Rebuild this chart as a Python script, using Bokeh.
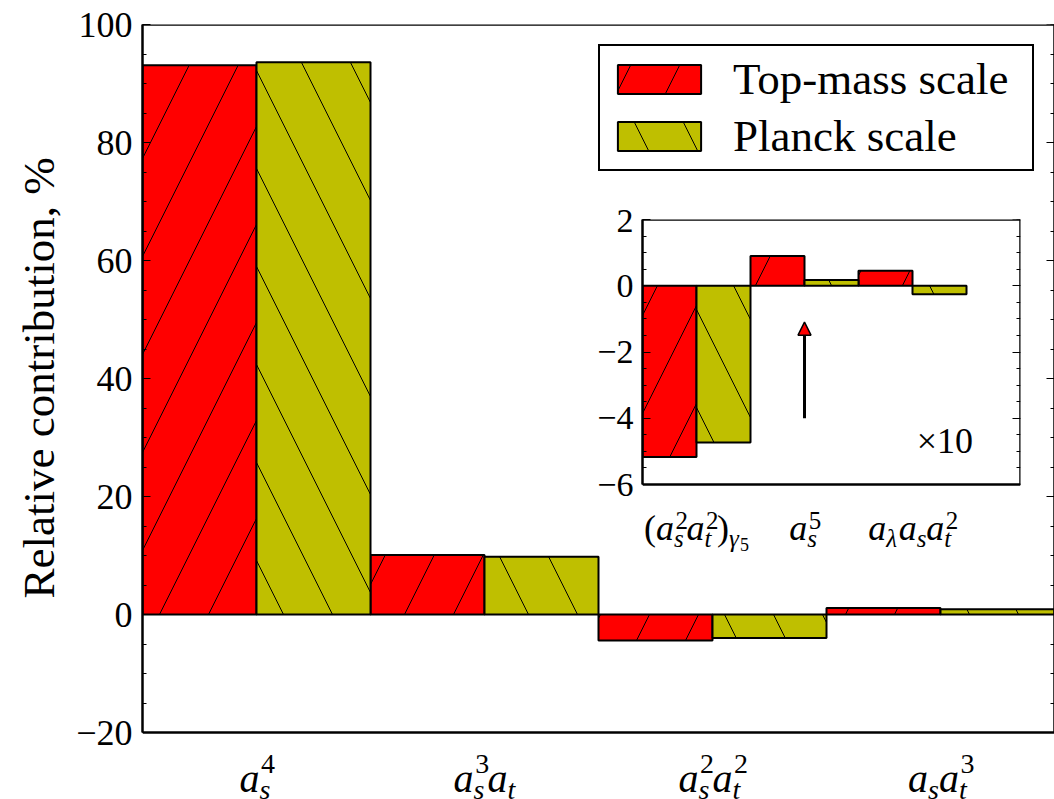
from bokeh.plotting import figure
from bokeh.models import (Range1d, FixedTicker, LinearAxis, Arrow,
                          NormalHead, GridBox, Column, Title)
from bokeh.core.properties import value
from bokeh.embed import file_html
from bokeh.resources import INLINE

# ---------------- data ----------------
series_names = ["Top-mass scale", "Planck scale"]
series_colors = ["#ff0000", "#bfbf00"]
series_hatch = ["/", "\\"]

main_terms = ["a_s^4", "a_s^3 a_t", "a_s^2 a_t^2", "a_s a_t^3"]
main_top_mass = [93.1, 10.1, -4.4, 1.1]
main_planck = [93.6, 9.8, -4.0, 0.9]
main_yticks = [-20, 0, 20, 40, 60, 80, 100]
main_minor_step = 5

inset_terms = ["(a_s^2 a_t^2)_g5", "a_s^5", "a_l a_s a_t^2"]
inset_top_mass = [-5.17, 0.90, 0.45]
inset_planck = [-4.73, 0.17, -0.26]
inset_yticks = [-6, -4, -2, 0, 2]
inset_minor_step = 0.5
inset_note = "×10"
inset_note_pos = (2.3, -5.0)
arrow_term_index = 1
arrow_y = [-4.0, -1.1]

y_label = "Relative contribution, %"

# tick-label atoms: (base, subscript, superscript)
main_label_atoms = [
    [("a", "s", "4")],
    [("a", "s", "3"), ("a", "t", None)],
    [("a", "s", "2"), ("a", "t", "2")],
    [("a", "s", None), ("a", "t", "3")],
]
inset_label_atoms = [
    [("(", None, None), ("a", "s", "2"), ("a", "t", "2"), (")", ("γ", "5"), None)],
    [("a", "s", "5")],
    [("a", "λ", None), ("a", "s", None), ("a", "t", "2")],
]

FONT = "Liberation Serif"
EM = {"a": 0.5, "s": 0.389, "t": 0.278, "λ": 0.5, "γ": 0.44, "(": 0.333, ")": 0.333}
UPRIGHT = set("()0123456789×")
BASE_FIX = 0.30          # compensation for where the svg text baseline lands


def w(txt):
    return sum(EM.get(c, 0.5) for c in txt)


def piece(fig, x, y, dx, dy, txt, size, align="left"):
    style = "normal" if all(c in UPRIGHT for c in txt) else "italic"
    fig.text(x=[x], y=[y], text=[txt], x_offset=dx, y_offset=-(dy + BASE_FIX * size),
             text_font=value(FONT), text_font_style=style,
             text_font_size=value(f"{size}px"), text_align=align,
             text_baseline="alphabetic", text_color="black")


def math_label(fig, x, y, atoms, dy, B, S, SS, rise, drop, drop2):
    def widths(atom):
        base, sub, sup = atom
        wb = w(base) * B
        if sub is None:
            ws = 0
        elif isinstance(sub, tuple):
            ws = w(sub[0]) * S + w(sub[1]) * SS
        else:
            ws = w(sub) * S
        wp = w(sup) * S if sup else 0
        return wb, ws, wp
    total = 0
    for a in atoms:
        wb, ws, wp = widths(a)
        total += wb + max(ws, wp)
    cur = -total / 2
    for a in atoms:
        base, sub, sup = a
        wb, ws, wp = widths(a)
        piece(fig, x, y, cur, dy, base, B)
        cur += wb
        if sup:
            piece(fig, x, y, cur + 0.04 * B, dy + rise, sup, S)
        if sub is not None:
            if isinstance(sub, tuple):
                piece(fig, x, y, cur, dy - drop, sub[0], S)
                piece(fig, x, y, cur + w(sub[0]) * S, dy - drop - drop2, sub[1], SS)
            else:
                piece(fig, x, y, cur, dy - drop, sub, S)
        cur += max(ws, wp)


def tick_axis(ax, ticks, minor, major_len, minor_len, bounds):
    ax.ticker = FixedTicker(ticks=ticks, minor_ticks=minor)
    ax.major_tick_in = major_len
    ax.major_tick_out = 0
    ax.minor_tick_in = minor_len
    ax.minor_tick_out = 0
    ax.major_tick_line_color = "black"
    ax.minor_tick_line_color = "black"
    ax.major_tick_line_width = 1
    ax.minor_tick_line_width = 1
    ax.axis_line_color = "black"
    ax.axis_line_width = 2.5
    ax.bounds = bounds


def spine(fig, side, loc, bounds=None, ticks=None, minor=None, major_len=0, minor_len=0):
    ax = LinearAxis(fixed_location=loc)
    tick_axis(ax, ticks or [], minor or [], major_len, minor_len, bounds or "auto")
    ax.major_label_overrides = {t: "" for t in (ticks or [])}
    ax.major_label_text_font_size = "0px"
    fig.add_layout(ax, side)


def bars(fig, values_list, legend=True):
    for k, vals in enumerate(values_list):
        xs = [i + (k - 0.5) * 0.5 for i in range(len(vals))]
        kw = dict(legend_label=series_names[k]) if legend else {}
        fig.vbar(x=xs, top=vals, bottom=0, width=0.5,
                 fill_color=series_colors[k], line_color="black", line_width=2,
                 hatch_pattern=series_hatch[k], hatch_color="black",
                 hatch_scale=98, hatch_weight=1, **kw)


# ---------------- main figure ----------------
MAIN_W, MAIN_H = 1054, 799
MAIN_TOP, MAIN_LEFT = 24, 142
MAIN_AXIS_PX = 708                        # pixel height of the -20..100 span
main_ppu = MAIN_AXIS_PX / (main_yticks[-1] - main_yticks[0])
main_ystart = main_yticks[-1] - (MAIN_H - MAIN_TOP) / main_ppu

p = figure(width=MAIN_W, height=MAIN_H, x_range=Range1d(-0.5, len(main_terms) - 0.5),
           y_range=Range1d(main_ystart, main_yticks[-1]),
           output_backend="svg", toolbar_location=None, x_axis_location=None,
           min_border_left=MAIN_LEFT, min_border_right=0, min_border_top=MAIN_TOP,
           min_border_bottom=0)
p.grid.visible = False
p.outline_line_color = None
p.background_fill_color = "white"
p.border_fill_color = "white"

main_minor = list(range(main_yticks[0], main_yticks[-1] + 1, main_minor_step))
main_bounds = (main_yticks[0], main_yticks[-1])
ya = p.yaxis[0]
tick_axis(ya, main_yticks, main_minor, 8, 4, main_bounds)
ya.major_label_overrides = {t: (f"−{abs(t)}" if t < 0 else str(t)) for t in main_yticks}
ya.major_label_text_font = FONT
ya.major_label_text_font_size = "36px"
ya.major_label_text_color = "black"
ya.major_label_standoff = 10
p.add_layout(Title(text=y_label, align="left", offset=201, standoff=20,
                   text_font=FONT, text_font_size="45px", text_font_style="normal",
                   text_color="black"), "left")

spine(p, "right", len(main_terms) - 0.5, main_bounds, main_yticks, main_minor, 8, 4)
spine(p, "above", main_yticks[-1])
spine(p, "below", main_yticks[0])

bars(p, [main_top_mass, main_planck])

for i, atoms in enumerate(main_label_atoms):
    math_label(p, i, main_yticks[0], atoms, -58, 40, 28, 20, 18, 7, 4)

lg = p.legend[0]
lg.location = "top_right"
lg.margin = 20
lg.padding = 7
lg.spacing = 5
lg.glyph_width = 104
lg.glyph_height = 36
lg.label_standoff = 22
lg.label_width = 292
lg.label_text_font = FONT
lg.label_text_font_size = "45px"
lg.label_text_color = "black"
lg.border_line_color = "black"
lg.border_line_width = 2
lg.border_line_alpha = 1
lg.background_fill_color = "white"
lg.background_fill_alpha = 1

# ---------------- inset figure ----------------
INS_LEFT, INS_TOP = 572, 209
INS_W, INS_H = 458, 351
INS_BL, INS_BT = 70, 10
INS_AXIS_PX = 265                         # pixel height of the -6..2 span
ins_ppu = INS_AXIS_PX / (inset_yticks[-1] - inset_yticks[0])
ins_ystart = inset_yticks[-1] - (INS_H - INS_BT) / ins_ppu
ins_xend = len(inset_terms)

ins = figure(width=INS_W, height=INS_H, x_range=Range1d(-0.5, ins_xend),
             y_range=Range1d(ins_ystart, inset_yticks[-1]),
             output_backend="svg", toolbar_location=None, x_axis_location=None,
             min_border_left=INS_BL, min_border_right=10, min_border_top=INS_BT,
             min_border_bottom=0)
ins.grid.visible = False
ins.outline_line_color = None
ins.background_fill_alpha = 0
ins.border_fill_alpha = 0

n_minor = int(round((inset_yticks[-1] - inset_yticks[0]) / inset_minor_step))
inset_minor = [inset_yticks[0] + j * inset_minor_step for j in range(n_minor + 1)]
ins_bounds = (inset_yticks[0], inset_yticks[-1])
iya = ins.yaxis[0]
tick_axis(iya, inset_yticks, inset_minor, 8, 4, ins_bounds)
iya.major_label_overrides = {t: (f"−{abs(t)}" if t < 0 else str(t)) for t in inset_yticks}
iya.major_label_text_font = FONT
iya.major_label_text_font_size = "34px"
iya.major_label_text_color = "black"
iya.major_label_standoff = 9

spine(ins, "right", ins_xend, ins_bounds, inset_yticks, inset_minor, 8, 4)
spine(ins, "above", inset_yticks[-1])
spine(ins, "below", inset_yticks[0])

bars(ins, [inset_top_mass, inset_planck], legend=False)

for i, atoms in enumerate(inset_label_atoms):
    math_label(ins, i, inset_yticks[0], atoms, -54, 36, 25, 18, 11, 7, 4)

ins.add_layout(Arrow(end=NormalHead(size=13, fill_color="red", line_color="black",
                                    line_width=1.5),
                     x_start=arrow_term_index, y_start=arrow_y[0],
                     x_end=arrow_term_index, y_end=arrow_y[1],
                     line_width=3, line_color="black"))
piece(ins, inset_note_pos[0], inset_note_pos[1], 0, 0, inset_note, 36, align="center")

main_box = Column(children=[p])
ins_box = Column(children=[ins], margin=(INS_TOP, 0, 0, INS_LEFT))
grid = GridBox(children=[(main_box, 0, 0), (ins_box, 0, 0)])

with open("out.html", "w") as f:
    f.write(file_html(grid, INLINE))
